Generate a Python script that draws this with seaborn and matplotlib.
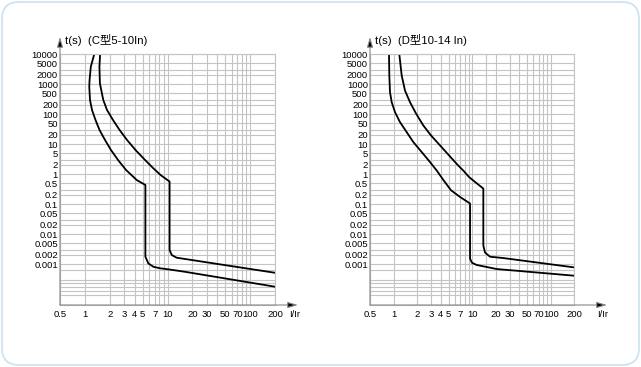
import numpy as np
import pandas as pd
import matplotlib
matplotlib.use('Agg')
import matplotlib.pyplot as plt
import seaborn as sns
from matplotlib.patches import FancyBboxPatch
from matplotlib.ticker import NullFormatter
from matplotlib.transforms import IdentityTransform

sns.set_theme(style='white')
plt.rcParams['font.family'] = ['Liberation Sans', 'Noto Sans CJK SC', 'DejaVu Sans']

# === Achsen / Beschriftung ===
y_ticks = [10000, 5000, 2000, 1000, 500, 200, 100, 50, 20, 10, 5, 2, 1,
           0.5, 0.2, 0.1, 0.05, 0.02, 0.01, 0.005, 0.002, 0.001]
y_labels = ['10000', '5000', '2000', '1000', '500', '200', '100', '50', '20', '10', '5', '2', '1',
            '0.5', '0.2', '0.1', '0.05', '0.02', '0.01', '0.005', '0.002', '0.001']
y_grid_extra = [3000, 300, 30, 3, 0.3, 0.03, 0.003,
                6.5e-4, 3e-4, 2.4e-4, 1.75e-4, 1.3e-4, 9e-5]
x_ticks = [0.5, 1, 2, 3, 4, 5, 7, 10, 20, 30, 50, 70, 100, 200]
x_labels = ['0.5', '1', '2', '3', '4', '5', '7', '10', '20', '30', '50', '70', '100', '200']
x_grid_extra = [6, 8, 9, 40, 60, 80, 90]

# === Kennlinien C-Typ (5-10 In) ===
c_unten_i = [1.30, 1.18, 1.14, 1.13, 1.154, 1.22, 1.345, 1.504, 1.753, 2.07, 2.52, 3.15, 4.24, 5.4,
             5.4, 5.86, 6.74, 8.12, 10.2, 16.3, 200]
c_unten_t = [10000, 3775, 1360, 813, 293, 136, 63, 29.3, 13.6, 6.3, 2.93, 1.36, 0.63, 0.43,
             0.00175, 0.00105, 8.1e-4, 7.2e-4, 6.65e-4, 5.5e-4, 1.75e-4]
c_oben_i = [1.53, 1.50, 1.52, 1.67, 1.853, 2.19, 2.63, 3.24, 4.10, 5.35, 6.68, 8.24, 10.6,
            10.6, 11.25, 12.9, 16.3, 200]
c_oben_t = [10000, 3800, 1050, 293, 136, 63, 29.3, 13.6, 6.3, 2.93, 1.585, 0.926, 0.56,
            0.0029, 0.002, 0.00162, 0.00147, 5.1e-4]

# === Kennlinien D-Typ (10-14 In) ===
d_unten_i = [0.873, 0.881, 0.899, 0.945, 1.041, 1.205, 1.467, 1.781, 2.279, 2.905, 3.52, 4.32,
             5.38, 7.0, 9.4,
             9.4, 9.95, 11.4, 20.5, 200]
d_unten_t = [10000, 1903, 530, 247, 115, 53.4, 24.8, 11.6, 5.38, 2.5, 1.33, 0.62,
             0.287, 0.172, 0.104,
             0.0015, 0.0011, 9.3e-4, 6.8e-4, 4.07e-4]
d_oben_i = [1.18, 1.267, 1.396, 1.617, 1.927, 2.387, 2.99, 3.90, 5.07, 6.61, 7.65, 9.12, 11.54, 13.88,
            13.88, 14.6, 16.9, 24.9, 200]
d_oben_t = [10000, 1903, 604, 247, 104, 41.5, 19.3, 8.98, 4.18, 1.95, 1.33, 0.795, 0.48, 0.327,
            0.0041, 0.0024, 0.00175, 0.00158, 7.7e-4]

titel_c = 't(s)  (C型5-10In)'
titel_d = 't(s)  (D型10-14 In)'

grid_farbe = '#c4c4c4'

fig = plt.figure(figsize=(6.41, 3.67), dpi=100)
fig.patch.set_facecolor('white')

# Rahmen mit runden Ecken
rahmen = FancyBboxPatch((2, 2), 637, 363, boxstyle='round,pad=0,rounding_size=17',
                        transform=IdentityTransform(), facecolor='none',
                        edgecolor='#c9e2f2', linewidth=1.2)
fig.patches.append(rahmen)

ax_c = fig.add_axes([60 / 641, 62 / 367, 215 / 641, 251 / 367])
ax_d = fig.add_axes([370 / 641, 62 / 367, 204.3 / 641, 251 / 367])


def panel(ax, kurven, titel, x_extra, pfeil_x, label_x):
    ax.set_xscale('log')
    ax.set_yscale('log')
    ax.set_xlim(0.5, 200)
    ax.set_ylim(4.3e-5, 10000)

    ax.set_xticks(x_ticks)
    ax.set_xticklabels(x_labels)
    ax.set_xticks(x_extra, minor=True)
    ax.set_yticks(y_ticks)
    ax.set_yticklabels(y_labels)
    ax.set_yticks(y_grid_extra, minor=True)
    ax.xaxis.set_minor_formatter(NullFormatter())
    ax.yaxis.set_minor_formatter(NullFormatter())

    ax.grid(True, which='both', color=grid_farbe, linewidth=0.8)
    ax.tick_params(which='both', length=0, labelsize=6.8, colors='black')
    ax.tick_params(axis='y', pad=1.5)
    ax.tick_params(axis='x', pad=3.5)
    for s in ax.spines.values():
        s.set_color(grid_farbe)
        s.set_linewidth(0.8)

    for i_werte, t_werte in kurven:
        df = pd.DataFrame({'I': i_werte, 't': t_werte})
        sns.lineplot(data=df, x='I', y='t', sort=False, estimator=None,
                     color='black', linewidth=1.3, ax=ax)
    ax.set_xlabel('')
    ax.set_ylabel('')

    # Achsenpfeile
    ax.annotate('', xy=(pfeil_x, 0), xytext=(0, 0), xycoords='axes fraction',
                arrowprops=dict(arrowstyle='-|>,head_length=0.5,head_width=0.15',
                                ec='#888888', fc='black', lw=0.8, shrinkA=0, shrinkB=0))
    ax.annotate('', xy=(0, 1.068), xytext=(0, 0), xycoords='axes fraction',
                arrowprops=dict(arrowstyle='-|>,head_length=0.5,head_width=0.15',
                                ec='#888888', fc='black', lw=0.8, shrinkA=0, shrinkB=0))

    ax.text(0.024, 1.056, titel, transform=ax.transAxes, ha='left', va='center',
            fontsize=8.2, color='black')
    ax.text(label_x, -0.036, 'I/Ir', transform=ax.transAxes, ha='center', va='center',
            fontsize=6.8, color='black')


panel(ax_c, [(c_unten_i, c_unten_t), (c_oben_i, c_oben_t)], titel_c,
      x_grid_extra, 1.107, 1.09)
panel(ax_d, [(d_unten_i, d_unten_t), (d_oben_i, d_oben_t)], titel_d,
      x_grid_extra + [15], 1.16, 1.14)

fig.savefig('out.png', dpi=100)
